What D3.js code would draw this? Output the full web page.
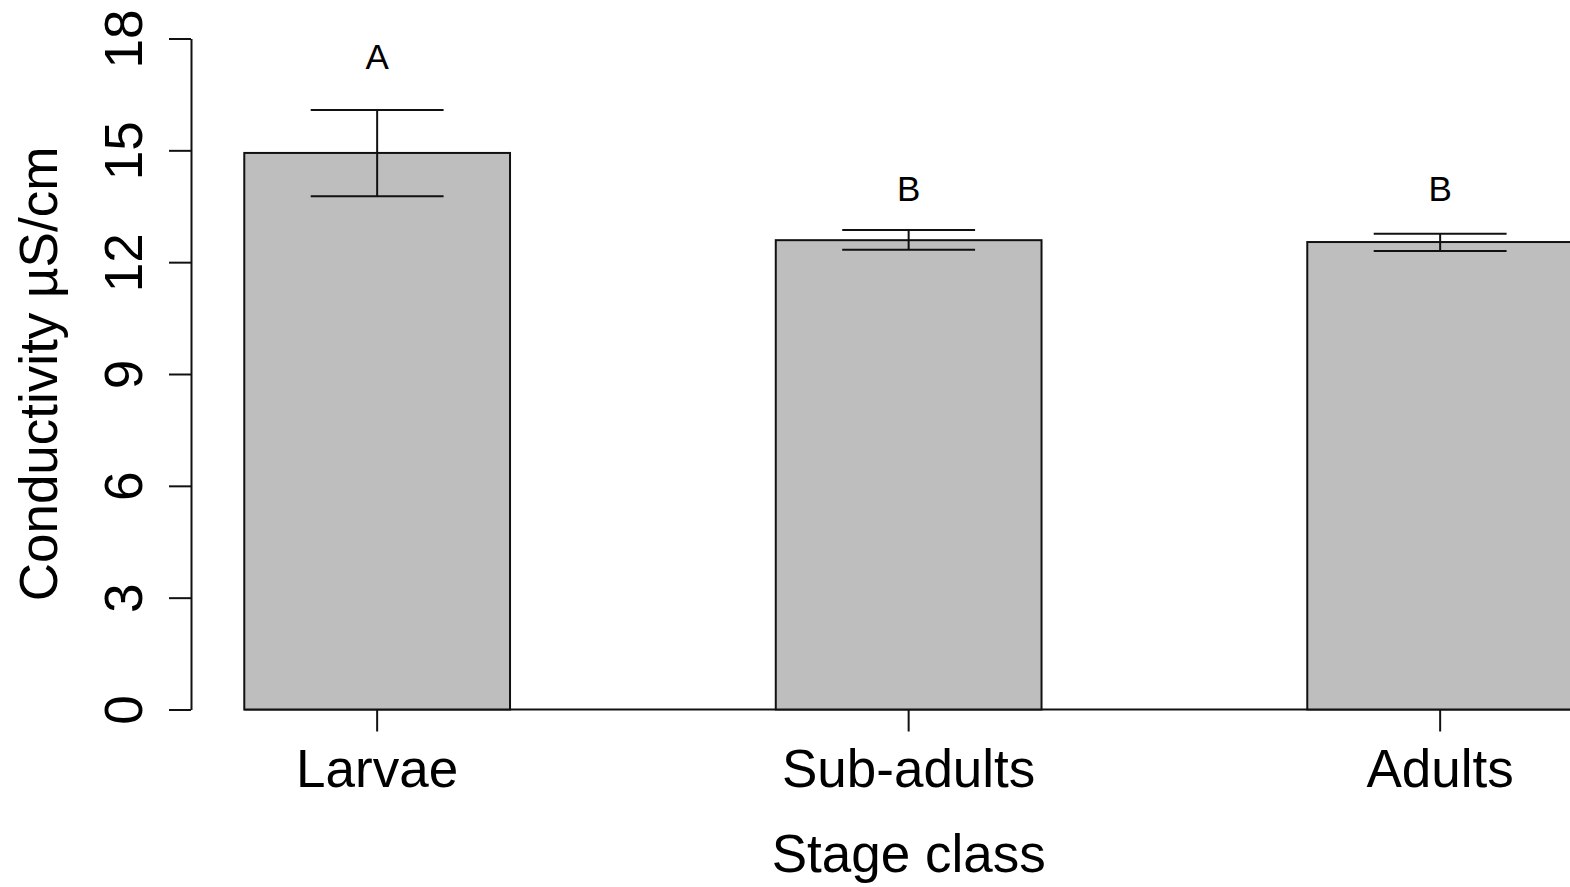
<!DOCTYPE html>
<html>
<head>
<meta charset="utf-8">
<script src="https://cdn.jsdelivr.net/npm/d3@7"></script>
<style>
  html, body { margin: 0; padding: 0; background: #fff; }
  svg { display: block; font-family: "Liberation Sans", Arial, sans-serif; }
</style>
</head>
<body>
<svg id="chart" width="1570" height="887"></svg>
<script>
// ---- data ----
const categories = ["Larvae", "Sub-adults", "Adults"];
const means = [14.93, 12.59, 12.54];
const errUpper = [16.08, 12.86, 12.76];
const errLower = [13.77, 12.33, 12.30];
const groupLetters = ["A", "B", "B"];
const letterLevel = [17.18, 13.64, 13.64];
const yTicks = [0, 3, 6, 9, 12, 15, 18];
const yLabel = "Conductivity µS/cm";
const xLabel = "Stage class";

// ---- layout ----
const svg = d3.select("#chart");
const plotTop = 38.5, plotBottom = 709.5, axisX = 191;

const y = d3.scaleLinear().domain([0, 18]).range([plotBottom, plotTop]);
const x = d3.scaleBand().domain(categories).range([111.4, 1705.9])
  .paddingInner(0.5).paddingOuter(0.25);

const ink = "#111";
const data = categories.map((c, i) => ({
  c, m: means[i], hi: errUpper[i], lo: errLower[i], letter: groupLetters[i], ly: letterLevel[i]
}));

// baseline
svg.append("line")
  .attr("x1", x(categories[0])).attr("x2", x.range()[1])
  .attr("y1", y(0)).attr("y2", y(0))
  .attr("stroke", ink).attr("stroke-width", 2);

// bars
svg.selectAll("rect.bar").data(data).enter().append("rect")
  .attr("class", "bar")
  .attr("x", d => x(d.c))
  .attr("y", d => y(d.m))
  .attr("width", x.bandwidth())
  .attr("height", d => y(0) - y(d.m))
  .attr("fill", "#bebebe")
  .attr("stroke", ink).attr("stroke-width", 2);

// error bars
const cx = d => x(d.c) + x.bandwidth() / 2;
const capHalf = x.bandwidth() / 4;
const eb = svg.selectAll("g.err").data(data).enter().append("g").attr("class", "err")
  .attr("stroke", ink).attr("stroke-width", 2);
eb.append("line").attr("x1", cx).attr("x2", cx)
  .attr("y1", d => y(d.hi)).attr("y2", d => y(d.lo));
eb.append("line").attr("x1", d => cx(d) - capHalf).attr("x2", d => cx(d) + capHalf)
  .attr("y1", d => y(d.hi)).attr("y2", d => y(d.hi));
eb.append("line").attr("x1", d => cx(d) - capHalf).attr("x2", d => cx(d) + capHalf)
  .attr("y1", d => y(d.lo)).attr("y2", d => y(d.lo));

// letters
svg.selectAll("text.letter").data(data).enter().append("text")
  .attr("class", "letter")
  .attr("x", cx).attr("y", d => y(d.ly))
  .attr("text-anchor", "middle")
  .attr("font-size", 35).attr("fill", "#000")
  .text(d => d.letter);

// y axis
const yAxis = svg.append("g").attr("transform", `translate(${axisX},0)`)
  .call(d3.axisLeft(y).tickValues(yTicks).tickSize(22).tickSizeOuter(0).tickFormat(d3.format("d")));
yAxis.select(".domain").attr("stroke", ink).attr("stroke-width", 2);
yAxis.selectAll(".tick line").attr("stroke", ink).attr("stroke-width", 2);
yAxis.selectAll(".tick text")
  .attr("font-size", 53).attr("font-family", "Liberation Sans, Arial, sans-serif")
  .attr("fill", "#000")
  .attr("x", null).attr("dy", null)
  .attr("text-anchor", "middle")
  .attr("transform", "translate(-49,0) rotate(-90)");

// x axis ticks and labels
const xAxis = svg.append("g").attr("transform", `translate(0,${plotBottom})`)
  .call(d3.axisBottom(x).tickSize(22).tickSizeOuter(0));
xAxis.select(".domain").remove();
xAxis.selectAll(".tick line").attr("stroke", ink).attr("stroke-width", 2);
xAxis.selectAll(".tick text")
  .attr("font-size", 53).attr("font-family", "Liberation Sans, Arial, sans-serif")
  .attr("fill", "#000")
  .attr("y", 77).attr("dy", null);

// axis titles
svg.append("text")
  .attr("x", x(categories[1]) + x.bandwidth() / 2).attr("y", 872)
  .attr("text-anchor", "middle").attr("font-size", 53).attr("fill", "#000")
  .text(xLabel);

svg.append("text")
  .attr("transform", `translate(57,${(plotTop + plotBottom) / 2}) rotate(-90)`)
  .attr("text-anchor", "middle").attr("font-size", 53).attr("fill", "#000")
  .text(yLabel);
</script>
</body>
</html>
